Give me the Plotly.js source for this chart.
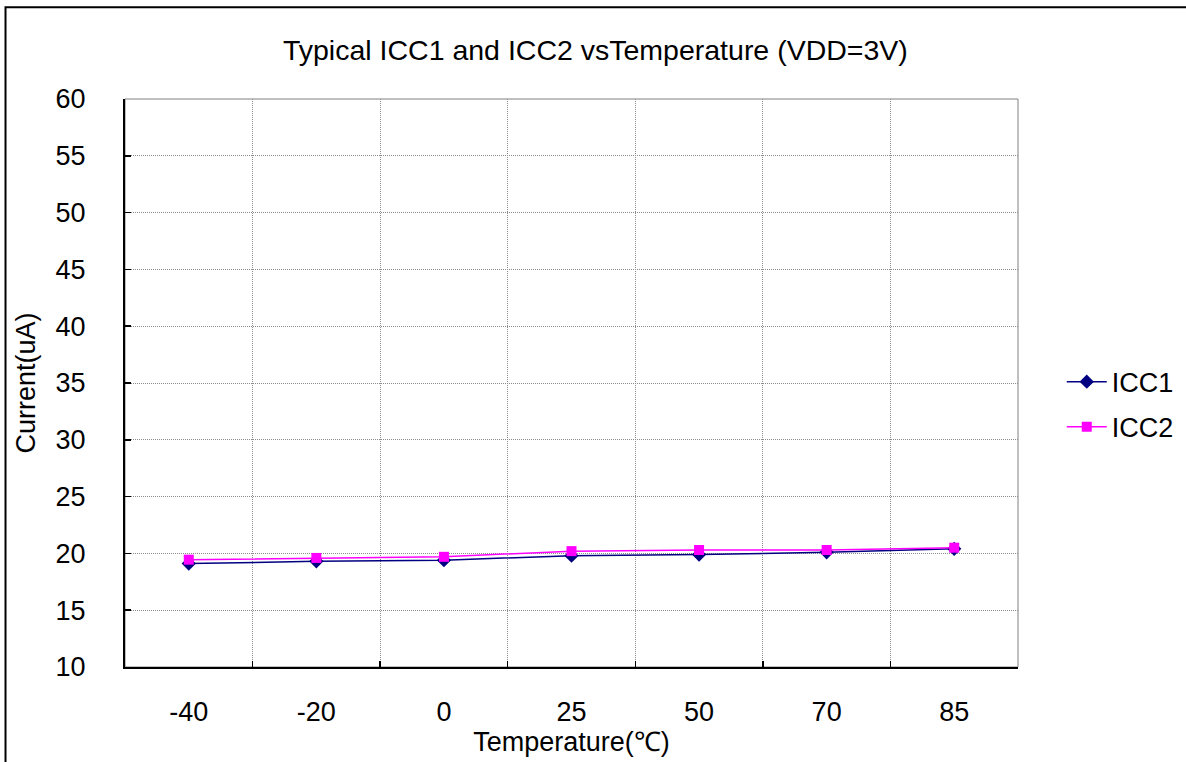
<!DOCTYPE html>
<html>
<head>
<meta charset="utf-8">
<script src="https://cdn.plot.ly/plotly-3.0.1.min.js"></script>
<style>html,body{margin:0;padding:0;background:#fff;}#chart{width:1186px;height:762px;}</style>
</head>
<body>
<div id="chart"></div>
<script>
const temperatures = ['-40', '-20', '0', '25', '50', '70', '85'];
const icc1 = [19.1, 19.3, 19.4, 19.8, 19.9, 20.1, 20.4];
const icc2 = [19.45, 19.6, 19.7, 20.2, 20.3, 20.3, 20.5];
const yTicks = [10, 15, 20, 25, 30, 35, 40, 45, 50, 55, 60];

const FONT = 'Liberation Sans, Arial, sans-serif';
const FS = 27;

const traces = [
  {
    x: temperatures, y: icc1, name: 'ICC1', type: 'scatter', mode: 'lines+markers',
    legendgroup: 'g1',
    line: {color: '#000080', width: 1.5},
    marker: {symbol: 'diamond', size: 11, color: '#000080'}
  },
  {
    x: temperatures, y: icc2, name: 'ICC2', type: 'scatter', mode: 'lines+markers',
    legendgroup: 'g2',
    line: {color: '#FF00FF', width: 1.5},
    marker: {symbol: 'square', size: 10, color: '#FF00FF'}
  }
];

const layout = {
  width: 1186, height: 762,
  margin: {l: 125, r: 168, t: 99, b: 95, autoexpand: false},
  paper_bgcolor: '#ffffff', plot_bgcolor: '#ffffff',
  font: {family: FONT, size: FS, color: '#000000'},
  title: {text: 'Typical ICC1 and ICC2 vsTemperature (VDD=3V)', font: {family: FONT, size: 28.5, color: '#000'},
          x: 0.502, xanchor: 'center', y: 0.934, yanchor: 'middle'},
  showlegend: true,
  legend: {x: 1.049, xanchor: 'left', y: 0.462, yanchor: 'middle', font: {family: FONT, size: FS},
           tracegroupgap: 7, itemwidth: 40, bgcolor: 'rgba(0,0,0,0)'},
  xaxis: {
    type: 'category', categoryorder: 'array', categoryarray: temperatures,
    range: [-0.5, 6.5], tickson: 'boundaries',
    showgrid: true, gridcolor: '#8c8c8c', griddash: '1px,1px', gridwidth: 1,
    ticks: 'inside', ticklen: 6, tickcolor: '#000', tickwidth: 1.5,
    showline: true, linecolor: '#000', linewidth: 2,
    tickfont: {family: FONT, size: FS}, ticklabelstandoff: 20,
    title: {text: 'Temperature(℃)', font: {family: FONT, size: FS}, standoff: 0},
    zeroline: false, fixedrange: true
  },
  yaxis: {
    range: [10, 60], tickvals: yTicks, ticktext: yTicks.map(String),
    showgrid: true, gridcolor: '#8c8c8c', griddash: '1px,1px', gridwidth: 1,
    ticks: 'inside', ticklen: 6, tickcolor: '#000', tickwidth: 1.5,
    showline: true, linecolor: '#000', linewidth: 2,
    tickfont: {family: FONT, size: FS}, ticklabelstandoff: 32,
    title: {text: 'Current(uA)', font: {family: FONT, size: FS}, standoff: 12},
    zeroline: false, fixedrange: true
  },
  shapes: [
    {type: 'rect', xref: 'paper', yref: 'paper', x0: 0, x1: 1, y0: 0, y1: 1,
     line: {color: '#808080', width: 1}, layer: 'below'},
    {type: 'rect', xref: 'paper', yref: 'paper', x0: -0.1338, x1: 1.19, y0: -0.2, y1: 1.1615,
     line: {color: '#000', width: 2}}
  ]
};

Plotly.newPlot('chart', traces, layout, {displayModeBar: false, staticPlot: true});
</script>
</body>
</html>
